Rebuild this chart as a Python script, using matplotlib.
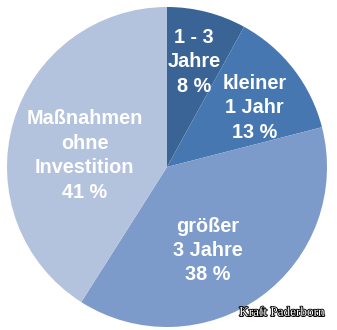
import numpy as np
import matplotlib.pyplot as plt
import matplotlib.patheffects as pe

# Amortisationszeit der Maßnahmen
labels = ["1 - 3\nJahre", "kleiner\n1 Jahr", "größer\n3 Jahre", "Maßnahmen\nohne\nInvestition"]
shares = [8, 13, 38, 41]
colors = ["#3A6496", "#4677B1", "#7C9BCA", "#B4C3DD"]

# Beschriftung: Winkel (Grad) und Abstand vom Mittelpunkt
label_angle = [75.6, 34.0, -64.0, 172.0]
label_radius = [0.68, 0.66, 0.58, 0.52]

fig = plt.figure(figsize=(3.37, 3.30), dpi=100)
ax = fig.add_axes([0, 0, 1, 1])

wedges, _ = ax.pie(shares, colors=colors, startangle=90, counterclock=False,
                   radius=1.0, wedgeprops=dict(linewidth=0))

for lab, val, a, r in zip(labels, shares, label_angle, label_radius):
    t = np.deg2rad(a)
    ax.text(r * np.cos(t), r * np.sin(t), f"{lab}\n{val} %",
            ha="center", va="center", color="white", fontsize=14.3,
            fontweight="bold", family="Liberation Sans", linespacing=1.36)

# Quellenhinweis unten rechts
ax.text(0.965, 0.052, "Kraft Paderborn", transform=fig.transFigure,
        ha="right", va="center", color="white", fontsize=9.5,
        family="Liberation Serif",
        path_effects=[pe.withStroke(linewidth=1.3, foreground="black")])

ax.set_xlim(-167 / 160, 170 / 160)
ax.set_ylim(-163 / 160, 167 / 160)
ax.set_aspect("auto")
ax.axis("off")

fig.savefig("out.png", dpi=100, facecolor="white")
